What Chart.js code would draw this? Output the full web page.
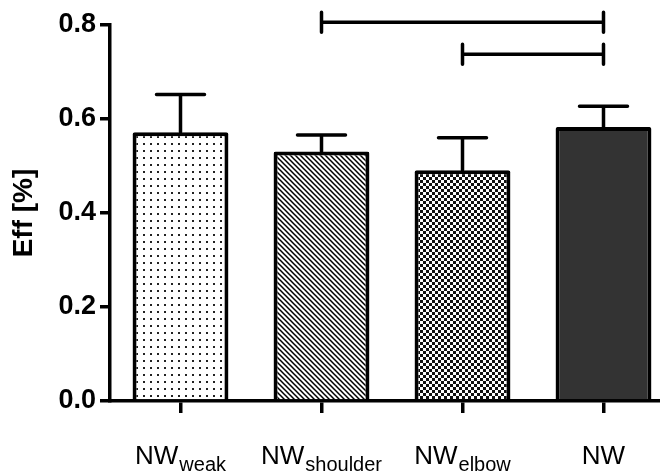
<!DOCTYPE html>
<html>
<head>
<meta charset="utf-8">
<title>Eff</title>
<style>
 html, body { margin: 0; padding: 0; overflow: hidden; background: #fff; }
 canvas { display: block; }
</style>
</head>
<body>
<canvas id="myChart" width="680" height="476"></canvas>
<script src="https://cdn.jsdelivr.net/npm/chart.js@4.4.1/dist/chart.umd.min.js"></script>
<script>
// data
let groups = ['NW', 'NW', 'NW', 'NW']
let subscripts = ['weak', 'shoulder', 'elbow', '']
let means = [0.572, 0.531, 0.491, 0.583]
let errors = [0.080, 0.035, 0.069, 0.044]
let yTicks = [0.0, 0.2, 0.4, 0.6, 0.8]
// significance brackets: from group, to group, level
let bracketFrom = [1, 2]
let bracketTo = [3, 3]
let bracketLevel = [0.806, 0.738]

function makePattern(kind) {
  let c = document.createElement('canvas')
  let g = c.getContext('2d')
  if (kind == 'dots') {
    c.width = 7; c.height = 7
    g.fillStyle = '#fff'; g.fillRect(0, 0, 7, 7)
    g.fillStyle = '#222'; g.fillRect(3, 3, 2, 2)
  } else if (kind == 'stripes') {
    c.width = 5; c.height = 5
    g.fillStyle = '#fff'; g.fillRect(0, 0, 5, 5)
    g.strokeStyle = '#000'; g.lineWidth = 1.5
    g.beginPath()
    g.moveTo(-1, -1); g.lineTo(6, 6)
    g.moveTo(-1, 4); g.lineTo(1, 6)
    g.moveTo(4, -1); g.lineTo(6, 1)
    g.stroke()
  } else {
    c.width = 6; c.height = 6
    g.fillStyle = '#fff'; g.fillRect(0, 0, 6, 6)
    g.fillStyle = '#111'
    g.fillRect(0, 0, 3, 3); g.fillRect(3, 3, 3, 3)
  }
  return g.createPattern(c, 'repeat')
}

let fills = [makePattern('dots'), makePattern('stripes'), makePattern('checker'), '#333333']

let errorBars = {
  id: 'errorBars',
  afterDatasetsDraw(chart) {
    let ctx = chart.ctx
    let y = chart.scales.y
    let meta = chart.getDatasetMeta(0)
    ctx.save()
    ctx.strokeStyle = '#000'
    ctx.lineWidth = 3.5
    ctx.lineCap = 'round'
    meta.data.forEach((bar, i) => {
      let top = y.getPixelForValue(means[i] + errors[i])
      let base = y.getPixelForValue(means[i])
      ctx.beginPath()
      ctx.moveTo(bar.x, base); ctx.lineTo(bar.x, top)
      ctx.moveTo(bar.x - 24, top); ctx.lineTo(bar.x + 24, top)
      ctx.stroke()
    })
    // brackets
    bracketFrom.forEach((f, k) => {
      let x1 = meta.data[f].x, x2 = meta.data[bracketTo[k]].x
      let py = y.getPixelForValue(bracketLevel[k])
      ctx.beginPath()
      ctx.moveTo(x1, py); ctx.lineTo(x2, py)
      ctx.moveTo(x1, py - 10); ctx.lineTo(x1, py + 10)
      ctx.moveTo(x2, py - 10); ctx.lineTo(x2, py + 10)
      ctx.stroke()
    })
    ctx.restore()
  }
}

let xLabels = {
  id: 'xLabels',
  afterDraw(chart) {
    let ctx = chart.ctx
    let x = chart.scales.x
    ctx.save()
    ctx.fillStyle = '#000'
    ctx.textAlign = 'left'
    ctx.textBaseline = 'alphabetic'
    groups.forEach((g, i) => {
      ctx.font = '26px Arial, "Liberation Sans"'
      let w1 = ctx.measureText(g).width
      ctx.font = '20px Arial, "Liberation Sans"'
      let w2 = subscripts[i] ? ctx.measureText(subscripts[i]).width + 1 : 0
      let cx = x.getPixelForValue(i)
      let sx = cx - (w1 + w2) / 2
      ctx.font = '26px Arial, "Liberation Sans"'
      ctx.fillText(g, sx, 464)
      ctx.font = '20px Arial, "Liberation Sans"'
      if (subscripts[i]) ctx.fillText(subscripts[i], sx + w1 + 1, 471)
    })
    ctx.restore()
  }
}

new Chart(document.getElementById('myChart'), {
  type: 'bar',
  data: {
    labels: groups.map((g, i) => g + subscripts[i]),
    datasets: [{
      data: means,
      backgroundColor: fills,
      borderColor: '#000',
      borderWidth: 4,
      borderRadius: 2,
      barPercentage: 0.68,
      categoryPercentage: 1
    }]
  },
  options: {
    responsive: false,
    animation: false,
    layout: { padding: { top: 25, right: 6, left: 0, bottom: 0 } },
    plugins: { legend: { display: false }, tooltip: { enabled: false } },
    scales: {
      x: {
        offset: true,
        grid: { display: true, offset: false, drawOnChartArea: false, drawTicks: true, tickLength: 12, color: '#000', lineWidth: 3.5 },
        border: { display: true, color: '#000', width: 3.5 },
        ticks: { display: false },
        afterFit(scale) { scale.height = 75 }
      },
      y: {
        min: 0,
        max: 0.8,
        afterBuildTicks(scale) { scale.ticks = yTicks.map(v => ({ value: v })) },
        grid: { display: true, drawOnChartArea: false, drawTicks: true, tickLength: 10, color: '#000', lineWidth: 3.5 },
        border: { display: true, color: '#000', width: 3.5 },
        ticks: {
          color: '#000',
          padding: 4,
          font: { family: 'Arial, "Liberation Sans"', size: 27, weight: 'bold' },
          callback: v => Number(v).toFixed(1)
        },
        title: {
          display: true,
          text: 'Eff [%]',
          color: '#000',
          padding: { top: 7, bottom: 0 },
          font: { family: 'Arial, "Liberation Sans"', size: 28, weight: 'bold' }
        },
        afterFit(scale) { scale.width = 110 }
      }
    }
  },
  plugins: [errorBars, xLabels]
})
</script>
</body>
</html>
